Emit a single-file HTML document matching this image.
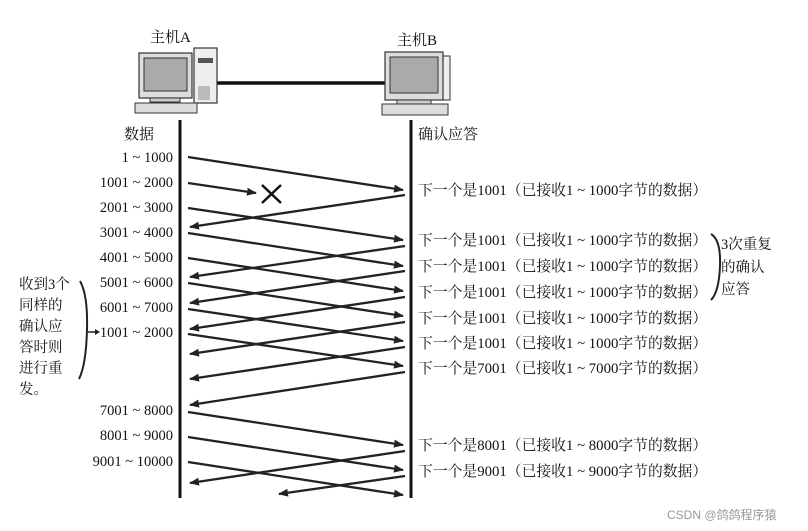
<!DOCTYPE html>
<html><head><meta charset="utf-8"><style>
html,body{margin:0;padding:0;background:#fff;}
svg{display:block;}
text{font-family:"Liberation Serif","Noto Serif CJK SC",serif;fill:#111;}
</style></head><body>
<svg width="808" height="531" viewBox="0 0 808 531" xmlns="http://www.w3.org/2000/svg">
<defs>
<marker id="ah" markerWidth="10" markerHeight="8" refX="9" refY="4" orient="auto" markerUnits="userSpaceOnUse">
<path d="M0,0 L10,4 L0,8 Z" fill="#222"/>
</marker>
</defs>
<text x="150" y="42" font-size="15">主机A</text>
<text x="397" y="45" font-size="15">主机B</text>
<line x1="216" y1="83" x2="386" y2="83" stroke="#111" stroke-width="3.5"/>
<rect x="194" y="48" width="23" height="55" fill="#eee" stroke="#333" stroke-width="1.2"/>
<rect x="198" y="58" width="15" height="5" fill="#555"/>
<rect x="198" y="86" width="12" height="14" fill="#bbb"/>
<rect x="139" y="53" width="53" height="45" fill="#ddd" stroke="#333" stroke-width="1.2"/>
<rect x="144" y="58" width="43" height="33" fill="#aaa" stroke="#333"/>
<rect x="150" y="98" width="30" height="4" fill="#ccc" stroke="#333"/>
<rect x="135" y="103" width="62" height="10" fill="#ddd" stroke="#333"/>
<rect x="441" y="56" width="9" height="44" fill="#eee" stroke="#333"/>
<rect x="385" y="52" width="58" height="48" fill="#ddd" stroke="#333" stroke-width="1.2"/>
<rect x="390" y="57" width="48" height="36" fill="#aaa" stroke="#333"/>
<rect x="397" y="100" width="34" height="4" fill="#ccc" stroke="#333"/>
<rect x="382" y="104" width="66" height="11" fill="#ddd" stroke="#333"/>
<line x1="180" y1="120" x2="180" y2="498" stroke="#111" stroke-width="3"/>
<line x1="411" y1="120" x2="411" y2="498" stroke="#111" stroke-width="3"/>
<text x="124" y="139" font-size="15">数据</text>
<text x="418" y="139" font-size="15">确认应答</text>
<g font-size="14.5" text-anchor="end">
<text x="173" y="162">1 ~ 1000</text>
<text x="173" y="187">1001 ~ 2000</text>
<text x="173" y="212">2001 ~ 3000</text>
<text x="173" y="237">3001 ~ 4000</text>
<text x="173" y="262">4001 ~ 5000</text>
<text x="173" y="287">5001 ~ 6000</text>
<text x="173" y="312">6001 ~ 7000</text>
<text x="173" y="337">1001 ~ 2000</text>
<text x="173" y="415">7001 ~ 8000</text>
<text x="173" y="440">8001 ~ 9000</text>
<text x="173" y="466">9001 ~ 10000</text>
</g>
<g stroke="#222" stroke-width="2.3" marker-end="url(#ah)">
<line x1="188" y1="157" x2="403" y2="190"/>
<line x1="188" y1="183" x2="256" y2="193"/>
<line x1="188" y1="208" x2="403" y2="240"/>
<line x1="188" y1="233" x2="403" y2="266"/>
<line x1="188" y1="258" x2="403" y2="291"/>
<line x1="188" y1="283" x2="403" y2="316"/>
<line x1="188" y1="309" x2="403" y2="341"/>
<line x1="188" y1="334" x2="403" y2="366"/>
<line x1="188" y1="412" x2="403" y2="445"/>
<line x1="188" y1="437" x2="403" y2="470"/>
<line x1="188" y1="462" x2="403" y2="495"/>
<line x1="405" y1="195" x2="190" y2="227"/>
<line x1="405" y1="246" x2="190" y2="277"/>
<line x1="405" y1="271" x2="190" y2="303"/>
<line x1="405" y1="297" x2="190" y2="329"/>
<line x1="405" y1="322" x2="190" y2="354"/>
<line x1="405" y1="347" x2="190" y2="379"/>
<line x1="405" y1="372" x2="190" y2="405"/>
<line x1="405" y1="451" x2="190" y2="483"/>
<line x1="405" y1="476" x2="279" y2="494"/>
</g>
<g stroke="#111" stroke-width="2.5"><line x1="262" y1="185" x2="281" y2="203"/><line x1="281" y1="185" x2="262" y2="203"/></g>
<g font-size="14.8">
<text x="418" y="195">下一个是1001（已接收1 ~ 1000字节的数据）</text>
<text x="418" y="245">下一个是1001（已接收1 ~ 1000字节的数据）</text>
<text x="418" y="271">下一个是1001（已接收1 ~ 1000字节的数据）</text>
<text x="418" y="297">下一个是1001（已接收1 ~ 1000字节的数据）</text>
<text x="418" y="323">下一个是1001（已接收1 ~ 1000字节的数据）</text>
<text x="418" y="348">下一个是1001（已接收1 ~ 1000字节的数据）</text>
<text x="418" y="373">下一个是7001（已接收1 ~ 7000字节的数据）</text>
<text x="418" y="450">下一个是8001（已接收1 ~ 8000字节的数据）</text>
<text x="418" y="476">下一个是9001（已接收1 ~ 9000字节的数据）</text>
</g>
<path d="M711,234 Q721,240 720,266 Q719,292 711,300" fill="none" stroke="#222" stroke-width="2"/>
<g font-size="14.5">
<text x="721" y="249">3次重复</text>
<text x="721" y="272">的确认</text>
<text x="721" y="294">应答</text>
</g>
<g font-size="14.5">
<text x="19" y="289">收到3个</text>
<text x="19" y="310">同样的</text>
<text x="19" y="331">确认应</text>
<text x="19" y="352">答时则</text>
<text x="19" y="373">进行重</text>
<text x="19" y="394">发。</text>
</g>
<path d="M80,281 Q88,295 87,330 Q86,365 79,379" fill="none" stroke="#222" stroke-width="2"/>
<line x1="88" y1="332" x2="97" y2="332" stroke="#222" stroke-width="1.5"/>
<path d="M95,329 L100,332 L95,335 Z" fill="#222"/>
<text x="667" y="519" font-size="12" style="font-family:'Liberation Sans','Noto Sans CJK SC',sans-serif;fill:#999">CSDN @鸽鸽程序猿</text>
</svg>
</body></html>
